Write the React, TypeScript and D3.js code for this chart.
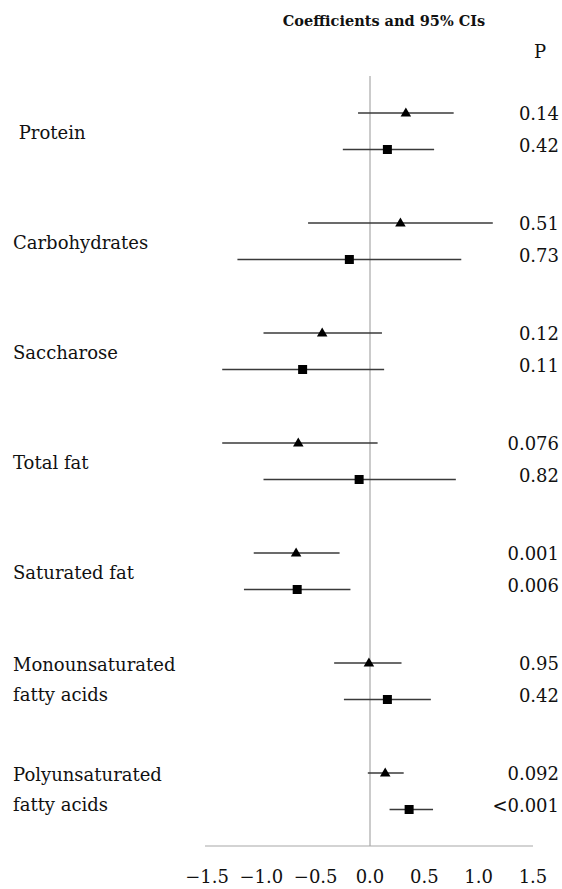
import React, { useEffect } from "react";
import * as d3 from "d3";

// nutrient labels (one entry per line of text)
const nutrients: string[][] = [
  ["\u00A0Protein"],
  ["Carbohydrates"],
  ["Saccharose"],
  ["Total fat"],
  ["Saturated fat"],
  ["Monounsaturated", "fatty acids"],
  ["Polyunsaturated", "fatty acids"],
];

// triangle series: coefficient and 95% CI
const triCoef = [0.33, 0.28, -0.44, -0.66, -0.68, -0.01, 0.14];
const triLow = [-0.11, -0.57, -0.98, -1.36, -1.07, -0.33, -0.02];
const triHigh = [0.77, 1.13, 0.11, 0.07, -0.28, 0.29, 0.31];
const triP = ["0.14", "0.51", "0.12", "0.076", "0.001", "0.95", "0.092"];

// square series: coefficient and 95% CI
const sqCoef = [0.16, -0.19, -0.62, -0.1, -0.67, 0.16, 0.36];
const sqLow = [-0.25, -1.22, -1.36, -0.98, -1.16, -0.24, 0.18];
const sqHigh = [0.59, 0.84, 0.13, 0.79, -0.18, 0.56, 0.58];
const sqP = ["0.42", "0.73", "0.11", "0.82", "0.006", "0.42", "<0.001"];

const tickValues = [-1.5, -1.0, -0.5, 0.0, 0.5, 1.0, 1.5];

const W = 562;
const H = 889;
const FONT = "'DejaVu Serif', serif";

export default function App() {
  useEffect(() => {
    document.body.style.margin = "0";
  }, []);

  const x = d3.scaleLinear().domain([-1.5, 1.5]).range([207, 533]);
  const y = d3
    .scaleLinear()
    .domain([0, nutrients.length - 1])
    .range([113, 773]);
  const pairGap = 36.5;
  const fmt = d3.format(".1f");

  const triangle = d3.symbol().type(d3.symbolTriangle).size(48);
  const square = d3.symbol().type(d3.symbolSquare).size(81);

  const axisY = 846;

  return (
    <svg width={W} height={H} style={{ display: "block", background: "#fff" }}>
      <text
        x={384}
        y={26}
        textAnchor="middle"
        fontFamily={FONT}
        fontWeight="bold"
        fontSize={14.5}
        fill="#111"
      >
        Coefficients and 95% CIs
      </text>
      <text x={540} y={58} textAnchor="middle" fontFamily={FONT} fontSize={18} fill="#111">
        P
      </text>

      {/* zero line and x axis */}
      <line x1={x(0)} x2={x(0)} y1={76} y2={axisY} stroke="#a8a8a8" strokeWidth={1.2} />
      <line x1={205} x2={533} y1={axisY} y2={axisY} stroke="#a8a8a8" strokeWidth={1.2} />
      {tickValues.map((t) => (
        <text
          key={t}
          x={x(t)}
          y={883}
          textAnchor="middle"
          fontFamily={FONT}
          fontSize={18}
          fill="#111"
        >
          {fmt(t)}
        </text>
      ))}

      {nutrients.map((lines, i) => {
        const yt = y(i);
        const ys = yt + pairGap;
        const mid = (yt + ys) / 2;
        return (
          <g key={i}>
            {lines.map((ln, j) => (
              <text
                key={j}
                x={13}
                y={lines.length === 1 ? mid + 8 : mid - 10 + j * 30}
                fontFamily={FONT}
                fontSize={18}
                fill="#111"
                style={{ whiteSpace: "pre" }}
              >
                {ln}
              </text>
            ))}

            <line x1={x(triLow[i])} x2={x(triHigh[i])} y1={yt} y2={yt} stroke="#3a3a3a" strokeWidth={1.4} />
            <path d={triangle()!} transform={`translate(${x(triCoef[i])},${yt + 0.5})`} fill="#000" />

            <line x1={x(sqLow[i])} x2={x(sqHigh[i])} y1={ys} y2={ys} stroke="#3a3a3a" strokeWidth={1.4} />
            <path d={square()!} transform={`translate(${x(sqCoef[i])},${ys})`} fill="#000" />

            <text x={559} y={yt + 7} textAnchor="end" fontFamily={FONT} fontSize={18} fill="#111">
              {triP[i]}
            </text>
            <text x={559} y={ys + 2} textAnchor="end" fontFamily={FONT} fontSize={18} fill="#111">
              {sqP[i]}
            </text>
          </g>
        );
      })}
    </svg>
  );
}
